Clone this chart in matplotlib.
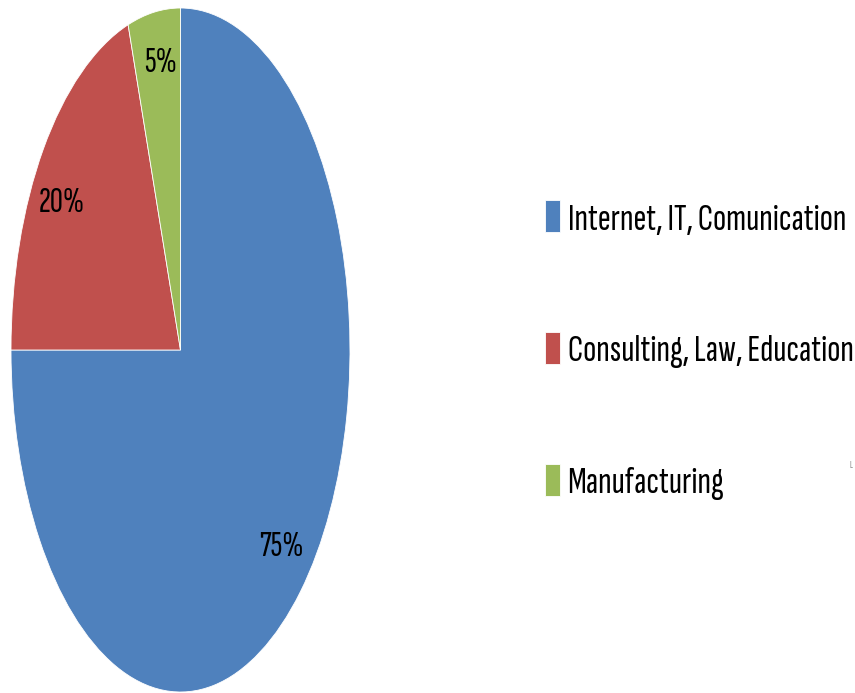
import numpy as np
import matplotlib.pyplot as plt

# данные
categories = ["Internet, IT, Comunication", "Consulting, Law, Education", "Manufacturing"]
shares = [75, 20, 5]
colors = ["#4f81bd", "#c0504d", "#9bbb59"]
# радиусы подписей по x и y (эллипс вытянут)
label_rx = [0.84, 0.865, 0.77]
label_ry = [0.815, 0.73, 0.85]

plt.rcParams['font.family'] = ['Sofia Sans Extra Condensed', 'DejaVu Sans']

fig = plt.figure(figsize=(8.55, 6.93), dpi=100)
# эллипс: x 11..350, y 8..692 в пикселях
ax = fig.add_axes([11 / 855, 1 / 693, 339 / 855, 684 / 693])

wedges, texts, autotexts = ax.pie(
    shares, colors=colors, startangle=90, counterclock=False,
    autopct='%d%%', pctdistance=0.83,
    wedgeprops=dict(linewidth=0.6, edgecolor='white'),
    textprops=dict(fontsize=26, color='black'),
)
for w, t, rx, ry in zip(wedges, autotexts, label_rx, label_ry):
    ang = np.deg2rad((w.theta1 + w.theta2) / 2)
    t.set_position((rx * np.cos(ang), ry * np.sin(ang)))

ax.set_aspect('auto')
ax.set_xlim(-1, 1)
ax.set_ylim(-1, 1)

leg = fig.legend(
    wedges, categories, loc='upper left', bbox_to_anchor=(545 / 855, 1 - 200 / 693),
    frameon=False, fontsize=28, handlelength=0.38, handleheight=0.9,
    handletextpad=0.2, labelspacing=2.45, borderpad=0, borderaxespad=0,
)

fig.text(849 / 855, 1 - 468 / 693, "L", fontsize=7, color='#888888')

fig.savefig("out.png", dpi=100)
